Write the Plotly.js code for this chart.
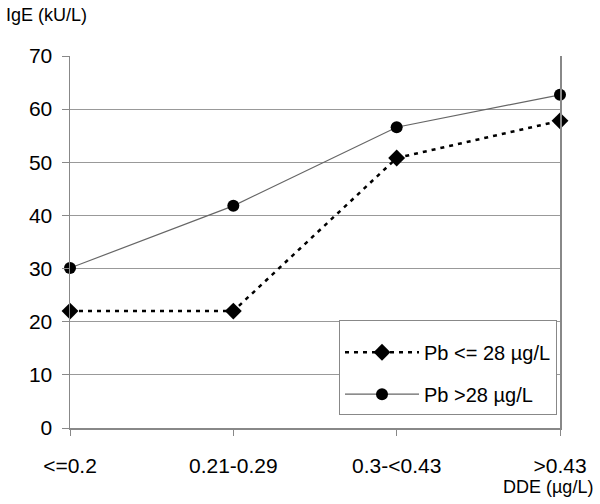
<!DOCTYPE html>
<html><head><meta charset="utf-8">
<script src="https://cdn.plot.ly/plotly-3.0.1.min.js"></script>
<style>html,body{margin:0;padding:0;background:#fff}</style>
</head><body>
<div id="chart" style="width:600px;height:504px"></div>
<script>
var categories = ["<=0.2", "0.21-0.29", "0.3-<0.43", ">0.43"];
var pbLow = [22, 22, 50.8, 57.8];
var pbHigh = [30.1, 41.8, 56.6, 62.7];
var seriesNames = ["Pb <= 28 µg/L", "Pb >28 µg/L"];
var yTicks = [0, 10, 20, 30, 40, 50, 60, 70];

var font = "Liberation Sans, Arial, sans-serif";
var traces = [
  {x: categories, y: pbLow, name: seriesNames[0], type: "scatter", mode: "lines+markers",
   legendgroup: "a", cliponaxis: false,
   line: {color: "#000", width: 2.5, dash: "4px,5px"},
   marker: {symbol: "diamond", size: 13, color: "#000"}},
  {x: categories, y: pbHigh, name: seriesNames[1], type: "scatter", mode: "lines+markers",
   legendgroup: "b", cliponaxis: false,
   line: {color: "#666", width: 1.2},
   marker: {symbol: "circle", size: 12, color: "#000"}}
];
var layout = {
  width: 600, height: 504,
  margin: {l: 70, r: 40, t: 56, b: 76},
  paper_bgcolor: "#fff", plot_bgcolor: "#fff",
  font: {family: font, size: 18, color: "#000"},
  showlegend: true,
  legend: {x: 0.549, xanchor: "left", y: 0.035, yanchor: "bottom",
    bordercolor: "#888", borderwidth: 1, bgcolor: "#fff",
    font: {family: font, size: 20, color: "#000"},
    itemwidth: 74,
    title: {text: " ", font: {family: font, size: 9}},
    traceorder: "grouped", tracegroupgap: 13},
  xaxis: {type: "category", range: [0, 3], showgrid: false, showline: true,
    linecolor: "#888", linewidth: 1.5, ticks: "outside", ticklen: 6, tickcolor: "#888",
    ticklabelstandoff: 12,
    tickfont: {family: font, size: 21}, zeroline: false},
  yaxis: {range: [0, 70], tickvals: yTicks, showgrid: true, gridcolor: "#999", gridwidth: 1,
    showline: true, mirror: true, linecolor: "#888", linewidth: 1.5,
    ticks: "outside", ticklen: 7, tickcolor: "#888", tickfont: {family: font, size: 21},
    ticklabelstandoff: 5,
    zeroline: false},
  annotations: [
    {text: "IgE (kU/L)", xref: "paper", yref: "paper", x: -0.135, y: 1.11, xanchor: "left", yanchor: "middle",
     showarrow: false, font: {family: font, size: 18}},
    {text: "DDE (µg/L)", xref: "paper", yref: "paper", x: 1.072, y: -0.158, xanchor: "right", yanchor: "middle",
     showarrow: false, font: {family: font, size: 18}}
  ]
};
Plotly.newPlot("chart", traces, layout, {displayModeBar: false, staticPlot: true});
</script>
</body></html>
